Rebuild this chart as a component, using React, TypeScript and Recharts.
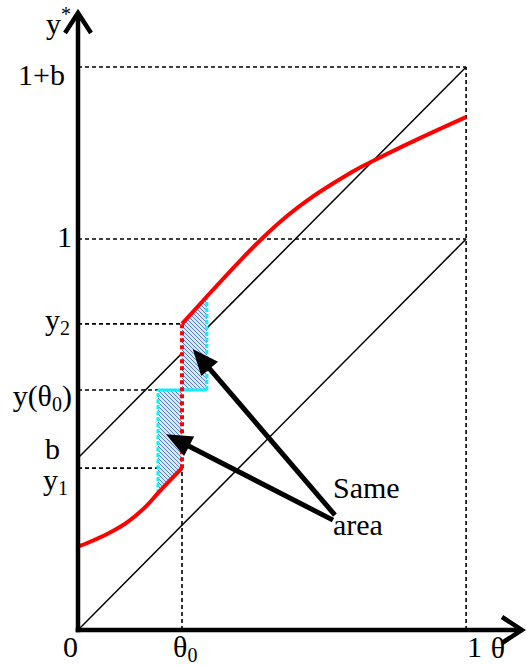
import React from "react";
import { ComposedChart, Line, Area, XAxis, YAxis, ReferenceLine, ReferenceDot } from "recharts";

// model values
const B = 0.44;
const THETA0 = 0.268;
const Y1 = 0.414;
const Y2 = 0.783;
const Y_THETA0 = 0.614;
const HATCH_LEFT = 0.206;
const HATCH_RIGHT = 0.332;

// red curve, below and above the jump at theta0
const lowerX = [0, 0.03, 0.08, 0.13, 0.177, 0.206, 0.268];
const lowerY = [0.213, 0.225, 0.248, 0.278, 0.318, 0.35, 0.414];
const upperX = [0.268, 0.332, 0.423, 0.477, 0.534, 0.603, 0.662, 0.714, 0.765, 0.881, 1.0];
const upperY = [0.783, 0.853, 0.95, 1.004, 1.055, 1.107, 1.145, 1.176, 1.202, 1.258, 1.312];

const xTicks = [0, THETA0, 1];
const xTickLabels = ["0", "θ_0", "1"];
const yTicks = [B, Y1, Y_THETA0, Y2, 1, 1 + B];
const yTickLabels = ["b", "y_1", "y(θ_0)", "y_2", "1", "1+b"];

// "Same area" arrows: tail -> tip
const arrowTails = [{ x: 0.662, y: 0.294 }, { x: 0.657, y: 0.281 }];
const arrowTips = [{ x: 0.309, y: 0.703 }, { x: 0.245, y: 0.491 }];

const X_MAX = 1.144;
const Y_MAX = 1.578;

// label nudges (pixels)
const xTickDx = [-15, -9, 1];
const yTickDx = [-18, -10, -6, -8, -6, -13];
const yTickDy = [1, 22, 16, 6, 8, 18];

const FONT = "Liberation Serif, Times New Roman, serif";
const textStyle = { fontFamily: FONT, fontSize: 30 };

const pts = (xs: number[], ys: number[]) => xs.map((x, i) => ({ x, y: ys[i] }));
const lowerCurve = pts(lowerX, lowerY);
const upperCurve = pts(upperX, upperY);
const hatchLower = lowerCurve.filter(p => p.x >= HATCH_LEFT);
const hatchUpper = upperCurve.filter(p => p.x <= HATCH_RIGHT);
const curveAt = (x: number) => [...lowerCurve, ...upperCurve].find(p => p.x === x)!.y;

function parts(label: string) {
  const bits = label.split(/_(.)/);
  return bits.map((t, i) =>
    i % 2 === 1 ? (
      <tspan key={i} style={{ fontSize: 20 }} dy={5}>{t}</tspan>
    ) : (
      <tspan key={i} dy={i > 0 ? -5 : 0}>{t}</tspan>
    )
  );
}

const XTick = (p: any) => {
  const i = xTicks.indexOf(p.payload.value);
  return (
    <text x={p.x + xTickDx[i]} y={p.y + 27} style={textStyle} fill="#000" textAnchor="start">
      {parts(xTickLabels[i])}
    </text>
  );
};

const YTick = (p: any) => {
  const i = yTicks.indexOf(p.payload.value);
  return (
    <text x={p.x + yTickDx[i]} y={p.y + yTickDy[i]} style={textStyle} fill="#000" textAnchor="end">
      {parts(yTickLabels[i])}
    </text>
  );
};

const arrowShape = (marker: string, width: number) => (p: any) => (
  <line x1={p.x1} y1={p.y1} x2={p.x2} y2={p.y2} stroke="#000" strokeWidth={width} markerEnd={`url(#${marker})`} />
);

const textShape = (content: React.ReactNode, anchor: string = "start") => (p: any) => (
  <text x={p.cx} y={p.cy} style={textStyle} fill="#000" textAnchor={anchor}>
    {content}
  </text>
);

const dashed = { stroke: "#000", strokeWidth: 1.6, strokeDasharray: "4 3" };
const cyan = { stroke: "#10eefa", strokeWidth: 3 };

export default function App() {
  return (
    <div style={{ position: "absolute", left: 0, top: 0, background: "#fff" }}>
      <ComposedChart width={526} height={665} margin={{ top: 13, right: 4, bottom: 0, left: 0 }}>
        <defs>
          <pattern id="hatch" patternUnits="userSpaceOnUse" width="4" height="4">
            <rect width="4" height="4" fill="#dbe8fa" />
            <path d="M-1,-1 L5,5 M-1,3 L1,5 M3,-1 L5,1" stroke="#4673c4" strokeWidth="0.9" />
          </pattern>
          <marker id="head" markerUnits="userSpaceOnUse" markerWidth="40" markerHeight="30"
            refX="18" refY="11" orient="auto" style={{ overflow: "visible" }}>
            <path d="M0,0 L26,11 L0,22 Z" fill="#000" />
          </marker>
          <marker id="chev" markerUnits="userSpaceOnUse" markerWidth="30" markerHeight="34"
            refX="23" refY="16" orient="auto" style={{ overflow: "visible" }}>
            <path d="M3,3 L23,16 L3,29" fill="none" stroke="#000" strokeWidth="4.5" />
          </marker>
        </defs>

        <XAxis type="number" dataKey="x" domain={[0, X_MAX]} allowDataOverflow ticks={xTicks} interval={0}
          tickSize={0} tickMargin={0} axisLine={false} tickLine={false} height={35} tick={XTick} />
        <YAxis type="number" domain={[0, Y_MAX]} allowDataOverflow ticks={yTicks} interval={0}
          tickSize={0} tickMargin={0} axisLine={false} tickLine={false} width={78} tick={YTick} />

        {/* 45 degree lines */}
        <Line data={[{ x: 0, y: 0 }, { x: 1, y: 1 }]} dataKey="y" type="linear" stroke="#000" strokeWidth={1.5}
          dot={false} activeDot={false} isAnimationActive={false} zIndex={10} />
        <Line data={[{ x: 0, y: B }, { x: 1, y: 1 + B }]} dataKey="y" type="linear" stroke="#000" strokeWidth={1.5}
          dot={false} activeDot={false} isAnimationActive={false} zIndex={10} />

        {/* dashed guides */}
        <ReferenceLine segment={[{ x: 0, y: 1 + B }, { x: 1, y: 1 + B }]} {...dashed} ifOverflow="visible" zIndex={20} />
        <ReferenceLine segment={[{ x: 0, y: 1 }, { x: 1, y: 1 }]} {...dashed} ifOverflow="visible" zIndex={20} />
        <ReferenceLine segment={[{ x: 1, y: 0 }, { x: 1, y: 1 + B }]} {...dashed} ifOverflow="visible" zIndex={20} />
        <ReferenceLine segment={[{ x: 0, y: Y2 }, { x: THETA0, y: Y2 }]} {...dashed} ifOverflow="visible" zIndex={20} />
        <ReferenceLine segment={[{ x: 0, y: Y_THETA0 }, { x: HATCH_LEFT, y: Y_THETA0 }]} {...dashed} ifOverflow="visible" zIndex={20} />
        <ReferenceLine segment={[{ x: 0, y: Y1 }, { x: THETA0, y: Y1 }]} {...dashed} ifOverflow="visible" zIndex={20} />
        <ReferenceLine segment={[{ x: THETA0, y: 0 }, { x: THETA0, y: Y1 }]} {...dashed} ifOverflow="visible" zIndex={20} />

        {/* hatched equal areas */}
        <Area data={hatchLower} dataKey="y" type="linear" baseValue={Y_THETA0} fill="url(#hatch)" fillOpacity={1}
          stroke="none" activeDot={false} isAnimationActive={false} zIndex={30} />
        <Area data={hatchUpper} dataKey="y" type="linear" baseValue={Y_THETA0} fill="url(#hatch)" fillOpacity={1}
          stroke="none" activeDot={false} isAnimationActive={false} zIndex={30} />

        <ReferenceLine segment={[{ x: HATCH_LEFT, y: curveAt(HATCH_LEFT) }, { x: HATCH_LEFT, y: Y_THETA0 }]}
          {...cyan} strokeDasharray="4 2" ifOverflow="visible" zIndex={40} />
        <ReferenceLine segment={[{ x: HATCH_LEFT, y: Y_THETA0 }, { x: HATCH_RIGHT, y: Y_THETA0 }]}
          {...cyan} ifOverflow="visible" zIndex={40} />
        <ReferenceLine segment={[{ x: HATCH_RIGHT, y: Y_THETA0 }, { x: HATCH_RIGHT, y: curveAt(HATCH_RIGHT) }]}
          {...cyan} strokeDasharray="4 2" ifOverflow="visible" zIndex={40} />

        {/* red curve */}
        <Line data={lowerCurve} dataKey="y" type="monotone" stroke="#ff0000" strokeWidth={4}
          dot={false} activeDot={false} isAnimationActive={false} zIndex={50} />
        <Line data={upperCurve} dataKey="y" type="monotone" stroke="#ff0000" strokeWidth={4}
          dot={false} activeDot={false} isAnimationActive={false} zIndex={50} />
        <ReferenceLine segment={[{ x: THETA0, y: Y1 }, { x: THETA0, y: Y2 }]} stroke="#ff0000" strokeWidth={4}
          strokeDasharray="4 3" ifOverflow="visible" zIndex={55} />

        {/* arrows */}
        {arrowTails.map((t, i) => (
          <ReferenceLine key={i} segment={[t, arrowTips[i]]} ifOverflow="visible" zIndex={60}
            shape={arrowShape("head", 5)} />
        ))}

        {/* axes */}
        <ReferenceLine segment={[{ x: 0, y: -0.006 }, { x: 0, y: Y_MAX }]} ifOverflow="visible" zIndex={70}
          shape={arrowShape("chev", 4.5)} />
        <ReferenceLine segment={[{ x: -0.006, y: 0 }, { x: X_MAX, y: 0 }]} ifOverflow="visible" zIndex={70}
          shape={arrowShape("chev", 4.5)} />

        {/* text */}
        <ReferenceDot x={-0.0825} y={1.524} r={0} ifOverflow="visible" zIndex={80}
          shape={textShape(<>y<tspan style={{ fontSize: 20 }} dy={-13}>*</tspan></>)} />
        <ReferenceDot x={1.082} y={-0.0716} r={0} ifOverflow="visible" zIndex={80}
          shape={textShape("θ", "middle")} />
        <ReferenceDot x={0.657} y={0.338} r={0} ifOverflow="visible" zIndex={80} shape={textShape("Same")} />
        <ReferenceDot x={0.657} y={0.243} r={0} ifOverflow="visible" zIndex={80} shape={textShape("area")} />
      </ComposedChart>
    </div>
  );
}
